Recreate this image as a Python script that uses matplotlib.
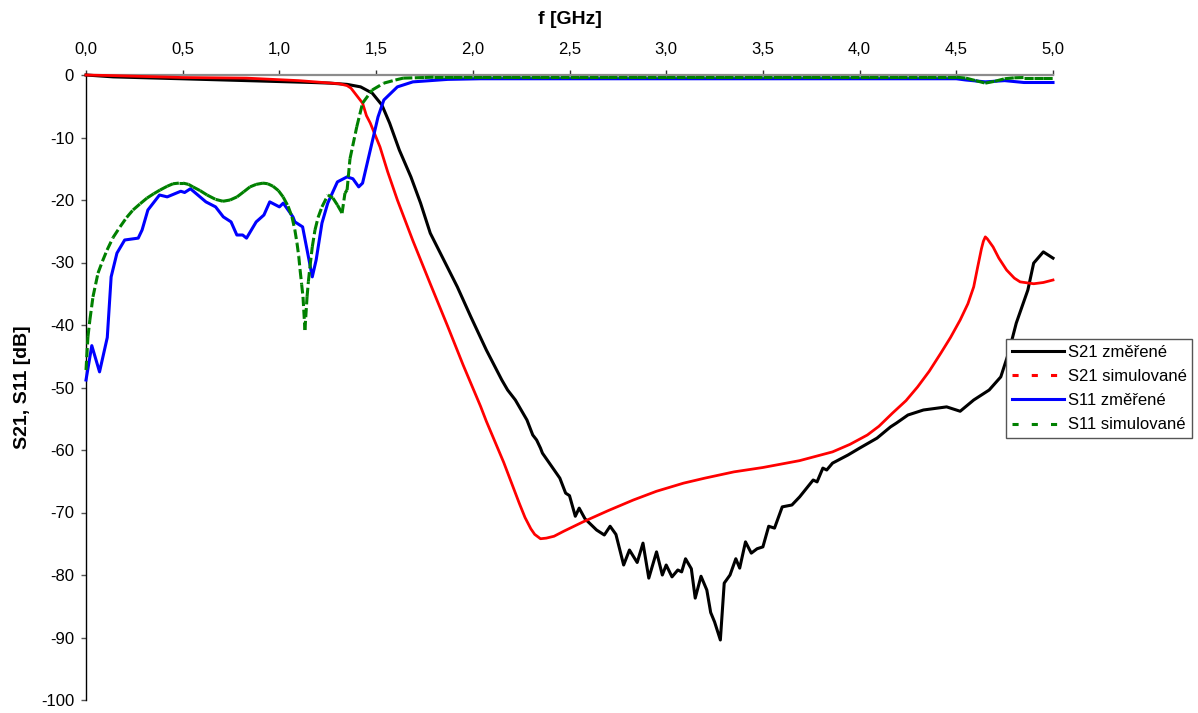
import numpy as np
import matplotlib
matplotlib.use("Agg")
import matplotlib.pyplot as plt
from matplotlib.collections import LineCollection
from matplotlib.lines import Line2D
from matplotlib.ticker import MultipleLocator, FuncFormatter

plt.rcParams['font.family'] = ['Liberation Sans', 'DejaVu Sans']
plt.rcParams['axes.unicode_minus'] = False

# ---------------- data ----------------
series_labels = ["S21 změřené", "S21 simulované", "S11 změřené", "S11 simulované"]
x_label = "f [GHz]"
y_label = "S21, S11 [dB]"

s21_meas_f = [0.00, 0.14, 0.49, 0.83, 1.17, 1.26, 1.35, 1.42, 1.48, 1.53, 1.57, 1.62, 1.68, 1.73,
              1.78, 1.85, 1.92, 1.99, 2.07, 2.15, 2.18, 2.22, 2.28, 2.31, 2.33, 2.35, 2.36, 2.45,
              2.48, 2.50, 2.53, 2.55, 2.58, 2.64, 2.68, 2.71, 2.74, 2.78, 2.81, 2.85, 2.88, 2.91,
              2.95, 2.98, 3.00, 3.03, 3.06, 3.08, 3.10, 3.13, 3.15, 3.18, 3.21, 3.23, 3.25, 3.28,
              3.30, 3.33, 3.36, 3.38, 3.41, 3.44, 3.47, 3.50, 3.53, 3.56, 3.60, 3.65, 3.69, 3.76,
              3.78, 3.81, 3.83, 3.86, 3.94, 4.00, 4.09, 4.16, 4.19, 4.25, 4.33, 4.45, 4.52, 4.59,
              4.67, 4.73, 4.77, 4.81, 4.87, 4.90, 4.95, 5.00]
s21_meas_db = [0.0, -0.3, -0.6, -0.9, -1.2, -1.3, -1.5, -1.9, -2.9, -4.8, -7.7, -12.0, -16.3, -20.5,
               -25.3, -29.6, -33.9, -38.7, -44.0, -48.8, -50.4, -52.0, -55.2, -57.6, -58.4, -59.7, -60.5, -64.5,
               -66.9, -67.3, -70.6, -69.3, -71.0, -72.8, -73.6, -72.2, -73.5, -78.4, -76.0, -78.0, -74.9, -80.5,
               -76.3, -80.0, -78.4, -80.3, -79.2, -79.5, -77.4, -79.0, -83.7, -80.2, -82.4, -86.0, -87.5, -90.4,
               -81.3, -80.0, -77.4, -78.9, -74.7, -76.5, -75.8, -75.5, -72.2, -72.5, -69.1, -68.8, -67.5, -64.8,
               -65.1, -62.9, -63.2, -62.1, -60.8, -59.7, -58.1, -56.3, -55.7, -54.4, -53.6, -53.1, -53.8, -52.0,
               -50.4, -48.3, -44.5, -39.7, -34.4, -30.1, -28.3, -29.3]

s21_sim_f = [0.00, 0.14, 0.50, 0.83, 1.10, 1.31, 1.35, 1.37, 1.40, 1.43, 1.45, 1.47, 1.52, 1.56,
             1.61, 1.69, 1.78, 1.87, 1.95, 2.04, 2.07, 2.13, 2.16, 2.24, 2.27, 2.30, 2.32, 2.35,
             2.38, 2.42, 2.47, 2.57, 2.70, 2.83, 2.95, 3.09, 3.20, 3.35, 3.50, 3.69, 3.86, 3.95,
             4.04, 4.10, 4.17, 4.24, 4.30, 4.36, 4.42, 4.47, 4.52, 4.56, 4.59, 4.61, 4.63, 4.64,
             4.65, 4.66, 4.69, 4.72, 4.76, 4.80, 4.83, 4.90, 4.95, 5.00]
s21_sim_db = [0.0, -0.1, -0.4, -0.5, -0.9, -1.4, -1.7, -2.1, -3.3, -4.5, -6.5, -7.7, -11.5, -15.5,
              -20.0, -26.5, -33.4, -40.2, -46.4, -53.0, -55.4, -59.8, -62.0, -68.5, -70.8, -72.6, -73.5, -74.2,
              -74.1, -73.8, -73.0, -71.5, -69.7, -68.0, -66.6, -65.3, -64.5, -63.5, -62.8, -61.7, -60.3, -59.1,
              -57.6, -56.2, -54.1, -52.1, -49.9, -47.4, -44.5, -42.0, -39.2, -36.6, -33.9, -30.8, -27.8, -26.6,
              -25.9, -26.2, -27.5, -29.3, -31.2, -32.5, -33.1, -33.4, -33.2, -32.8]

s11_meas_f = [0.00, 0.03, 0.07, 0.11, 0.13, 0.16, 0.20, 0.27, 0.29, 0.32, 0.38, 0.42, 0.49, 0.51,
              0.54, 0.62, 0.67, 0.71, 0.75, 0.78, 0.81, 0.83, 0.88, 0.92, 0.95, 1.00, 1.02, 1.07,
              1.08, 1.12, 1.15, 1.17, 1.19, 1.22, 1.25, 1.30, 1.35, 1.38, 1.41, 1.43, 1.47, 1.51,
              1.54, 1.61, 1.69, 1.87, 2.04, 2.50, 3.00, 3.50, 4.00, 4.50, 4.55, 4.65, 4.75, 4.85,
              5.00]
s11_meas_db = [-48.8, -43.3, -47.5, -42.0, -32.3, -28.5, -26.4, -26.1, -24.8, -21.6, -19.2, -19.5, -18.6, -18.8,
               -18.2, -20.3, -21.1, -22.7, -23.5, -25.6, -25.6, -26.1, -23.5, -22.4, -20.3, -21.1, -20.5, -22.7,
               -23.5, -24.3, -29.1, -32.3, -29.6, -23.7, -20.5, -17.1, -16.3, -16.6, -17.9, -17.3, -12.0, -6.7,
               -4.0, -1.9, -1.1, -0.7, -0.6, -0.6, -0.6, -0.6, -0.6, -0.6, -0.8, -1.1, -0.9, -1.2,
               -1.2]

s11_sim_f = [0.000, 0.010, 0.020, 0.036, 0.062, 0.085, 0.109, 0.140, 0.176, 0.210, 0.243, 0.280, 0.315, 0.350,
             0.383, 0.420, 0.450, 0.480, 0.502, 0.530, 0.553, 0.590, 0.626, 0.670, 0.708, 0.745, 0.781, 0.815,
             0.848, 0.880, 0.915, 0.940, 0.967, 0.995, 1.019, 1.045, 1.065, 1.080, 1.091, 1.100, 1.107, 1.115,
             1.122, 1.132, 1.143, 1.150, 1.158, 1.170, 1.184, 1.200, 1.220, 1.251, 1.277, 1.300, 1.324, 1.339,
             1.350, 1.365, 1.400, 1.430, 1.480, 1.540, 1.600, 1.640,
             1.70, 1.75, 1.80, 1.85, 1.90, 1.95, 2.00, 2.05, 2.10, 2.15, 2.20, 2.25, 2.30, 2.35, 2.40, 2.45,
             2.50, 2.55, 2.60, 2.65, 2.70, 2.75, 2.80, 2.85, 2.90, 2.95, 3.00, 3.05, 3.10, 3.15, 3.20, 3.25,
             3.30, 3.35, 3.40, 3.45, 3.50, 3.55, 3.60, 3.65, 3.70, 3.75, 3.80, 3.85, 3.90, 3.95, 4.00, 4.05,
             4.10, 4.15, 4.20, 4.25, 4.30, 4.35, 4.40, 4.45, 4.50, 4.55, 4.60, 4.65, 4.70, 4.75, 4.80, 4.85,
             4.90, 4.95, 5.00]
s11_sim_db = [-47.2, -41.9, -39.2, -35.5, -31.7, -29.8, -28.0, -26.0, -24.3, -22.8, -21.6, -20.6, -19.7, -19.0,
              -18.4, -17.8, -17.4, -17.3, -17.3, -17.5, -17.9, -18.5, -19.2, -19.9, -20.2, -20.0, -19.5, -18.7,
              -17.9, -17.5, -17.3, -17.4, -17.8, -18.5, -19.5, -21.0, -22.7, -24.8, -26.9, -29.0, -31.2, -33.5,
              -35.5, -40.8, -35.5, -33.0, -30.7, -27.5, -24.8, -22.8, -21.1, -19.2, -19.7, -20.8, -22.1, -18.9,
              -18.4, -13.4, -8.3, -4.5, -2.4, -1.3, -0.8, -0.5,
              -0.45, -0.4, -0.35, -0.35, -0.35, -0.35, -0.35, -0.35, -0.35, -0.35, -0.35, -0.35, -0.35, -0.35, -0.35, -0.35,
              -0.35, -0.35, -0.35, -0.35, -0.35, -0.35, -0.35, -0.35, -0.35, -0.35, -0.35, -0.35, -0.35, -0.35, -0.35, -0.35,
              -0.35, -0.35, -0.35, -0.35, -0.35, -0.35, -0.35, -0.35, -0.35, -0.35, -0.35, -0.35, -0.35, -0.35, -0.35, -0.35,
              -0.35, -0.35, -0.35, -0.35, -0.35, -0.35, -0.35, -0.35, -0.35, -0.5, -0.9, -1.3, -1.0, -0.6, -0.45, -0.4,
              -0.4, -0.4, -0.4]

# ---------------- figure ----------------
W, H = 1198, 713
fig = plt.figure(figsize=(W / 100, H / 100), dpi=100)
ax = fig.add_axes([86 / W, 13 / H, (1053 - 86) / W, (700 - 75) / H])

lw = 2.2
ax.plot(s21_meas_f, s21_meas_db, color='black', lw=lw, zorder=3, clip_on=False,
        solid_joinstyle='round')
ax.plot(s21_sim_f, s21_sim_db, color='#ff0000', lw=lw * 0.9, zorder=4, clip_on=False,
        solid_joinstyle='round')
ax.plot(s11_meas_f, s11_meas_db, color='#0000ff', lw=lw, zorder=5, clip_on=False,
        solid_joinstyle='round')

# simulated S11: dashed per segment (short segments appear solid)
pts = np.column_stack([s11_sim_f, s11_sim_db])
segs = np.stack([pts[:-1], pts[1:]], axis=1)
lc = LineCollection(segs, colors='#008000', linewidths=lw, linestyles=[(0, (3.0, 1.2))],
                    capstyle='butt', zorder=6)
lc.set_clip_on(False)
ax.add_collection(lc)

ax.set_xlim(0, 5)
ax.set_ylim(-100, 0)

ax.xaxis.tick_top()
ax.xaxis.set_label_position('top')
ax.xaxis.set_major_locator(MultipleLocator(0.5))
ax.yaxis.set_major_locator(MultipleLocator(10))
ax.xaxis.set_major_formatter(FuncFormatter(lambda v, p: f"{v:.1f}".replace('.', ',')))
ax.yaxis.set_major_formatter(FuncFormatter(lambda v, p: f"{int(round(v))}"))

for s in ['right', 'bottom']:
    ax.spines[s].set_visible(False)
ax.spines['top'].set_color('#8c8c8c')
ax.spines['top'].set_linewidth(1.6)
ax.spines['left'].set_color('black')
ax.spines['left'].set_linewidth(1.0)

ax.tick_params(axis='x', which='major', direction='out', length=3.6, width=1, color='#333333',
               labelsize=12, pad=9.5, top=True, bottom=False)
ax.tick_params(axis='y', which='major', direction='out', length=3.6, width=1, color='#555555',
               labelsize=12, pad=5.0)

ax.set_xlabel(x_label, fontsize=14, fontweight='bold', labelpad=13)
ax.set_ylabel(y_label, fontsize=14, fontweight='bold', labelpad=7)

handles = [
    Line2D([0], [0], color='black', lw=lw),
    Line2D([0], [0], color='#ff0000', lw=lw, ls=(0, (2.0, 4.3))),
    Line2D([0], [0], color='#0000ff', lw=lw),
    Line2D([0], [0], color='#008000', lw=lw, ls=(0, (2.0, 4.3))),
]
leg = ax.legend(handles, series_labels, loc='upper left',
                bbox_to_anchor=(1006 / W, 1 - 339 / H), bbox_transform=fig.transFigure,
                borderaxespad=0, fontsize=12, handlelength=3.1, handletextpad=0.25,
                labelspacing=0.55, borderpad=0.35, fancybox=False, framealpha=1,
                edgecolor='#555555')
leg.get_frame().set_linewidth(1.0)

fig.savefig('out.png', dpi=100)
